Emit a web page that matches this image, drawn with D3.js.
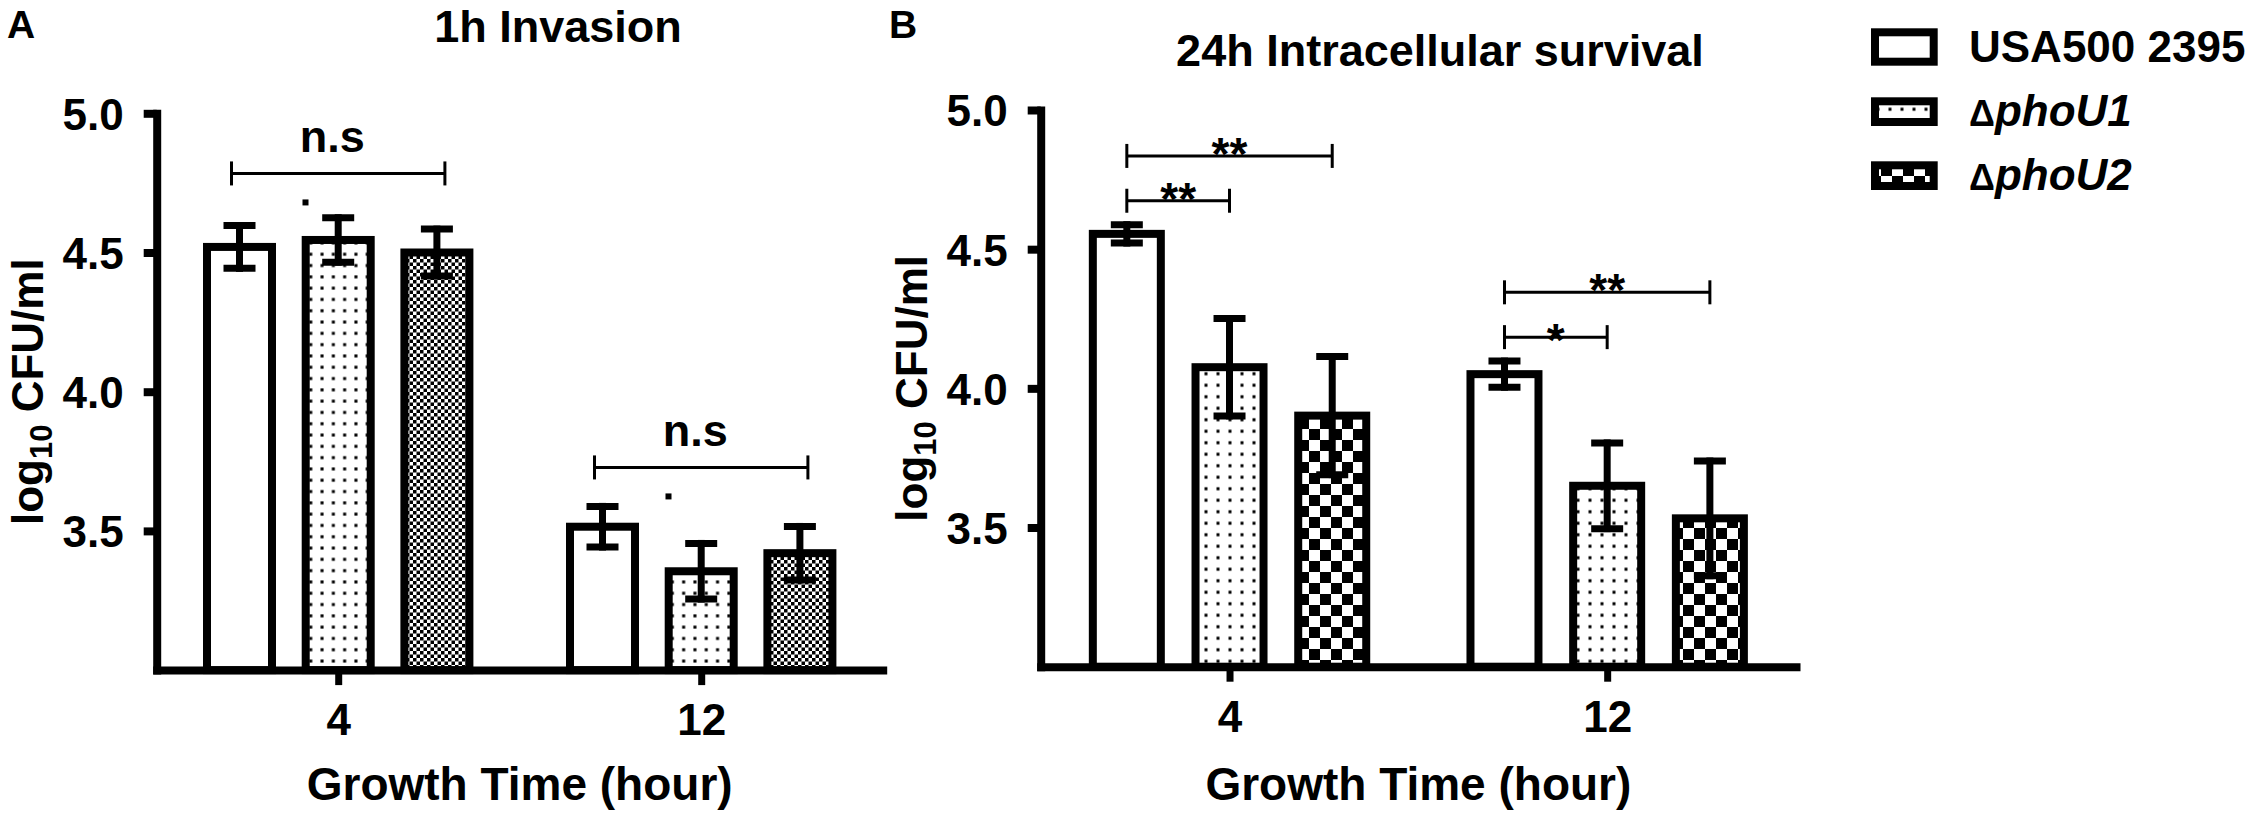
<!DOCTYPE html>
<html>
<head>
<meta charset="utf-8">
<script src="https://cdn.jsdelivr.net/npm/d3@7"></script>
<style>
  html, body { margin: 0; padding: 0; background: #fff; }
  svg { display: block; }
  text { font-family: "Liberation Sans", Arial, sans-serif; font-weight: bold; fill: #000; }
</style>
</head>
<body>
<svg id="chart" width="2261" height="821"></svg>
<script>
// ---------------- data ----------------
const groups = ["4", "12"];
const seriesNames = ["USA500 2395", "ΔphoU1", "ΔphoU2"];
const yDomain = [3.0, 5.0];
const yTicks = [3.5, 4.0, 4.5, 5.0];

// Panel A: 1h Invasion  (rows = groups, cols = series)
const invasionMeans  = [[4.52, 4.545, 4.50], [3.515, 3.355, 3.42]];
const invasionErrors = [[0.077, 0.080, 0.084], [0.073, 0.100, 0.096]];
const invasionSig = [
  { group: 0, from: 0, to: 2, level: 4.784, label: "n.s" },
  { group: 1, from: 0, to: 2, level: 3.728, label: "n.s" }
];

// Panel B: 24h Intracellular survival
const survivalMeans  = [[4.555, 4.076, 3.902], [4.051, 3.650, 3.533]];
const survivalErrors = [[0.033, 0.175, 0.212], [0.047, 0.154, 0.206]];
const survivalSig = [
  { group: 0, from: 0, to: 2, level: 4.835, label: "**" },
  { group: 0, from: 0, to: 1, level: 4.674, label: "**" },
  { group: 1, from: 0, to: 2, level: 4.345, label: "**" },
  { group: 1, from: 0, to: 1, level: 4.184, label: "*" }
];

// ---------------- drawing ----------------
const svg = d3.select("#chart");
const defs = svg.append("defs");

function dotPattern(id, w, h, s) {
  const p = defs.append("pattern").attr("id", id).attr("patternUnits", "userSpaceOnUse")
    .attr("width", w).attr("height", h);
  p.append("rect").attr("width", w).attr("height", h).attr("fill", "#fff");
  p.append("rect").attr("x", w / 2 - s / 2).attr("y", h / 2 - s / 2).attr("width", s).attr("height", s).attr("fill", "#000");
}
function checkerPattern(id, c) {
  const p = defs.append("pattern").attr("id", id).attr("patternUnits", "userSpaceOnUse")
    .attr("width", 2 * c).attr("height", 2 * c);
  p.append("rect").attr("width", 2 * c).attr("height", 2 * c).attr("fill", "#fff");
  p.append("rect").attr("x", 0).attr("y", 0).attr("width", c).attr("height", c).attr("fill", "#000");
  p.append("rect").attr("x", c).attr("y", c).attr("width", c).attr("height", c).attr("fill", "#000");
}
dotPattern("dotsA", 11.3, 11.3, 3);
checkerPattern("checkA", 3.5);
dotPattern("dotsB", 12, 11.5, 3);
checkerPattern("checkB", 11);

function drawPanel(cfg) {
  const g = svg.append("g");
  const y = d3.scaleLinear().domain(yDomain).range([cfg.yBottom, cfg.yTop]);
  const x = d3.scalePoint().domain(groups).range([cfg.x0, cfg.x1]).padding(0.5);
  const pad = 1 - cfg.barW / cfg.step;
  const xs = d3.scaleBand().domain(d3.range(seriesNames.length))
    .range([-1.5 * cfg.step, 1.5 * cfg.step]).paddingInner(pad).paddingOuter(pad / 2);
  const cx = (gi, si) => x(groups[gi]) + xs(si) + xs.bandwidth() / 2;
  const fills = ["#fff", `url(#${cfg.dots})`, `url(#${cfg.check})`];

  const bars = [];
  cfg.means.forEach((row, gi) => row.forEach((m, si) => bars.push({ gi, si, m, e: cfg.errors[gi][si] })));

  // bars
  g.selectAll("rect.bar").data(bars).join("rect").attr("class", "bar")
    .attr("x", d => cx(d.gi, d.si) - xs.bandwidth() / 2)
    .attr("width", xs.bandwidth())
    .attr("y", d => y(d.m))
    .attr("height", d => y(yDomain[0]) - y(d.m))
    .attr("fill", d => fills[d.si])
    .attr("stroke", "#000").attr("stroke-width", 8);

  // error bars
  const eb = g.selectAll("g.err").data(bars).join("g").attr("class", "err")
    .attr("stroke", "#000").attr("stroke-width", 7);
  eb.append("line").attr("x1", d => cx(d.gi, d.si)).attr("x2", d => cx(d.gi, d.si))
    .attr("y1", d => y(d.m + d.e) - 3.5).attr("y2", d => y(d.m - d.e) + 3.5);
  [1, -1].forEach(sgn => {
    eb.append("line").attr("x1", d => cx(d.gi, d.si) - 16).attr("x2", d => cx(d.gi, d.si) + 16)
      .attr("y1", d => y(d.m + sgn * d.e)).attr("y2", d => y(d.m + sgn * d.e));
  });

  // axes
  const ya = g.append("g").attr("transform", `translate(${cfg.x0},0)`)
    .call(d3.axisLeft(y).tickValues(yTicks).tickSize(13).tickSizeOuter(0).tickPadding(20).tickFormat(d3.format(".1f")));
  ya.select(".domain").attr("stroke-width", 8).attr("stroke-linecap", "square");
  ya.selectAll(".tick line").attr("stroke-width", 8);
  ya.selectAll(".tick text").attr("font-size", 44).attr("font-family", "Liberation Sans, Arial, sans-serif")
    .attr("font-weight", "bold").attr("dy", "0.36em");

  const xa = g.append("g").attr("transform", `translate(0,${cfg.yBottom})`)
    .call(d3.axisBottom(x).tickSize(15).tickSizeOuter(0));
  xa.select(".domain").attr("stroke-width", 8).attr("stroke-linecap", "square");
  xa.selectAll(".tick line").attr("stroke-width", 7);
  xa.selectAll(".tick text").attr("font-size", 44).attr("font-family", "Liberation Sans, Arial, sans-serif")
    .attr("font-weight", "bold").attr("y", 34).attr("dy", "0.71em");

  // significance brackets
  cfg.sig.forEach(s => {
    const xa0 = cx(s.group, s.from) - cfg.bracketPad;
    const xa1 = cx(s.group, s.to) + cfg.bracketPad;
    const yy = y(s.level);
    const b = g.append("g").attr("stroke", "#000").attr("stroke-width", 3);
    b.append("line").attr("x1", xa0).attr("x2", xa1).attr("y1", yy).attr("y2", yy);
    b.append("line").attr("x1", xa0).attr("x2", xa0).attr("y1", yy - 12).attr("y2", yy + 12);
    b.append("line").attr("x1", xa1).attr("x2", xa1).attr("y1", yy - 12).attr("y2", yy + 12);
    const isStar = s.label.startsWith("*");
    g.append("text").attr("x", (xa0 + xa1) / 2 - (isStar ? 0 : 6)).attr("y", isStar ? yy + (s.label.length === 1 ? 19 : 14) : yy - 21)
      .attr("text-anchor", "middle").attr("font-size", isStar ? 46 : 45).text(s.label);
    if (cfg.strayDot) {
      g.append("rect").attr("x", xa0 + 71).attr("y", yy + 26).attr("width", 6).attr("height", 6).attr("fill", "#000");
    }
  });

  // titles
  g.append("text").attr("x", cfg.panelX).attr("y", 38).attr("font-size", 39).text(cfg.panel);
  g.append("text").attr("x", cfg.titleX).attr("y", cfg.titleY).attr("text-anchor", "middle")
    .attr("font-size", 45).text(cfg.title);
  g.append("text").attr("x", (x(groups[0]) + x(groups[1])) / 2).attr("y", 800).attr("text-anchor", "middle")
    .attr("font-size", 46).text("Growth Time (hour)");
  const yl = g.append("text")
    .attr("transform", `translate(${cfg.x0 - 114},${(cfg.yTop + cfg.yBottom) / 2}) rotate(-90)`)
    .attr("text-anchor", "middle").attr("font-size", 44);
  yl.append("tspan").text("log");
  yl.append("tspan").attr("font-size", 31).attr("dy", 9).text("10");
  yl.append("tspan").attr("dy", -9).text(" CFU/ml");
}

drawPanel({
  panel: "A", panelX: 7, title: "1h Invasion", titleX: 558, titleY: 42,
  x0: 156.7, x1: 882.7, yTop: 113.3, yBottom: 670.1, step: 98.7, barW: 65,
  means: invasionMeans, errors: invasionErrors, sig: invasionSig,
  dots: "dotsA", check: "checkA", bracketPad: 8, strayDot: true
});
drawPanel({
  panel: "B", panelX: 889, title: "24h Intracellular survival", titleX: 1440, titleY: 66,
  x0: 1040.7, x1: 1796, yTop: 110, yBottom: 666.7, step: 102.7, barW: 68,
  means: survivalMeans, errors: survivalErrors, sig: survivalSig,
  dots: "dotsB", check: "checkB", bracketPad: 0, strayDot: false
});

// legend
const legendFills = ["#fff", "url(#dotsB)", "url(#checkB)"];
const legendRows = [
  { y0: 28.3, y1: 65.7, base: 61.7 },
  { y0: 97.3, y1: 126, base: 126 },
  { y0: 161.3, y1: 190, base: 190 }
];
const lg = svg.append("g");
seriesNames.forEach((name, i) => {
  const r = legendRows[i];
  lg.append("rect").attr("x", 1875).attr("y", r.y0 + 4).attr("width", 58.7).attr("height", r.y1 - r.y0 - 8)
    .attr("fill", legendFills[i]).attr("stroke", "#000").attr("stroke-width", 8);
  const t = lg.append("text").attr("x", 1969).attr("y", r.base).attr("font-size", 44);
  if (name.startsWith("Δ")) {
    t.append("tspan").attr("font-size", 36).text("Δ");
    t.append("tspan").attr("font-style", "italic").text(name.slice(1));
  } else {
    t.text(name);
  }
});
</script>
</body>
</html>
